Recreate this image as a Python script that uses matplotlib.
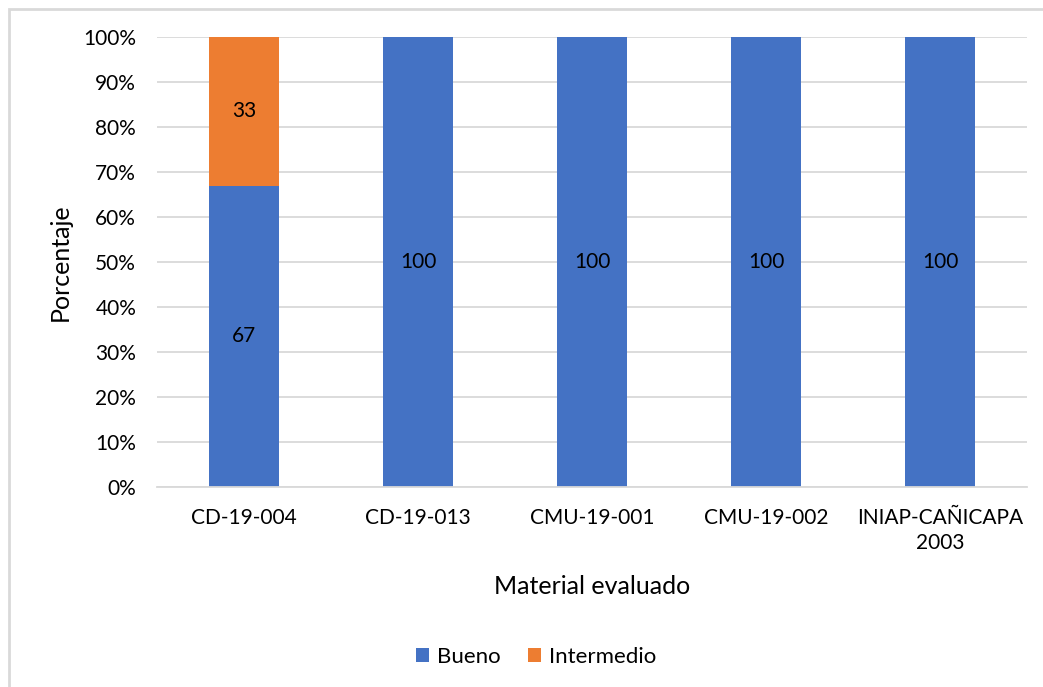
import matplotlib.pyplot as plt
from matplotlib.patches import Rectangle
from matplotlib.ticker import PercentFormatter

plt.rcParams['font.family'] = ['Lato', 'DejaVu Sans']

# ---- data ----
materiales = ["CD-19-004", "CD-19-013", "CMU-19-001", "CMU-19-002", "INIAP-CAÑICAPA\n2003"]
bueno = [67, 100, 100, 100, 100]
intermedio = [33, 0, 0, 0, 0]

BLUE = "#4472C4"
ORANGE = "#ED7D31"
GRID = "#D9D9D9"
W, H = 1043, 687

fig = plt.figure(figsize=(W / 100, H / 100), dpi=100)
ax = fig.add_axes([157 / W, 1 - 487 / H, 870 / W, 450 / H])

x = range(len(materiales))
b1 = ax.bar(x, bueno, width=0.40, color=BLUE, label="Bueno", zorder=2)
b2 = ax.bar(x, intermedio, width=0.40, bottom=bueno, color=ORANGE,
            label="Intermedio", zorder=2)

# value labels in the middle of each segment
for i in x:
    if bueno[i] > 0:
        ax.text(i, bueno[i] / 2, str(bueno[i]), ha="center", va="center",
                fontsize=15, color="black", zorder=3)
    if intermedio[i] > 0:
        ax.text(i, bueno[i] + intermedio[i] / 2, str(intermedio[i]),
                ha="center", va="center", fontsize=15, color="black", zorder=3)

ax.set_xlim(-0.5, len(materiales) - 0.5)
ax.set_ylim(0, 100)
ax.set_yticks(range(0, 101, 10))
ax.yaxis.set_major_formatter(PercentFormatter(decimals=0))
ax.set_xticks(list(x))
ax.set_xticklabels(materiales, linespacing=1.3)

ax.grid(axis="y", color=GRID, linewidth=1.3, zorder=0)
ax.set_axisbelow(True)
for side in ["top", "right", "left"]:
    ax.spines[side].set_visible(False)
ax.spines["bottom"].set_color(GRID)
ax.spines["bottom"].set_linewidth(1.3)
ax.tick_params(axis="both", length=0, labelsize=15, colors="black")
ax.tick_params(axis="x", pad=15)
ax.tick_params(axis="y", pad=15)

# axis titles
fig.text(60 / W, 1 - 262 / H, "Porcentaje", fontsize=18, rotation=90,
         ha="center", va="center")
fig.text(592 / W, 1 - 587 / H, "Material evaluado", fontsize=18,
         ha="center", va="center")

fig.legend(handles=[b1, b2], labels=["Bueno", "Intermedio"], loc="center",
           bbox_to_anchor=(536 / W, 1 - 657 / H), ncol=2, frameon=False,
           fontsize=16, handlelength=0.6, handleheight=0.6,
           handletextpad=0.35, columnspacing=1.2)

# chart border (only top and left edges fall inside the image)
fig.patches.append(Rectangle((8.5 / W, -0.1), 1.2, 1 - 8.5 / H + 0.1,
                             transform=fig.transFigure, fill=False,
                             edgecolor=GRID, linewidth=2))

fig.savefig("out.png", dpi=100)
